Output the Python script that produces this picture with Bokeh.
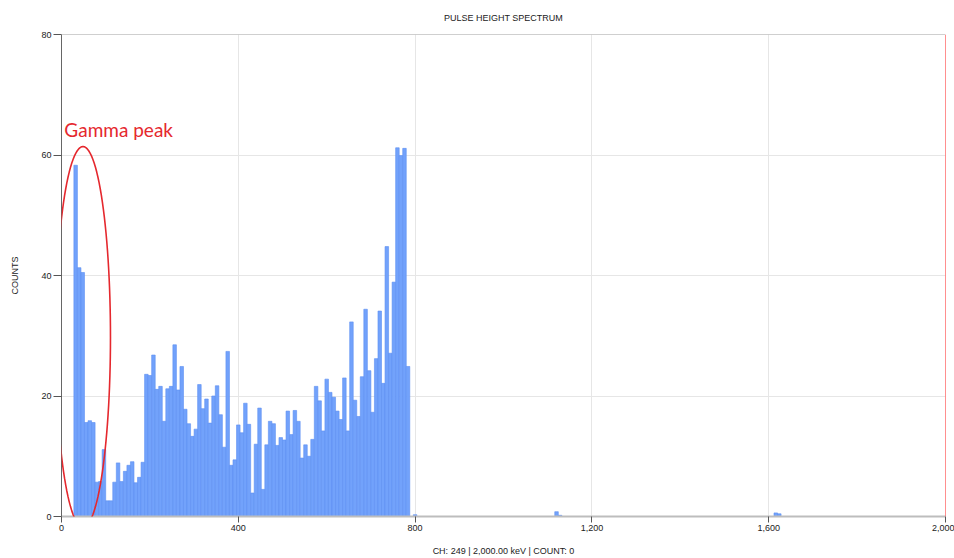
import math
from bokeh.plotting import figure
from bokeh.models import (ColumnDataSource, Label, Span, NumeralTickFormatter, FixedTicker,
                          Range1d, PolyAnnotation)
from bokeh.embed import file_html
from bokeh.resources import INLINE

# ---- data ----
kev_per_channel = 8
main_channels = list(range(4, 99))
main_counts = [
    58.3, 41.3, 40.5, 15.6, 15.9, 15.6, 5.7, 5.8, 11.1, 2.6,
    2.6, 5.7, 8.9, 5.8, 7.5, 8.5, 9.1, 5.6, 6.5, 9.0,
    23.6, 23.4, 26.8, 21.1, 21.6, 15.8, 21.2, 21.6, 28.5, 21.0,
    24.9, 17.8, 15.4, 13.3, 14.5, 21.9, 17.9, 19.5, 15.5, 20.0,
    21.7, 16.9, 11.5, 27.4, 8.5, 9.4, 15.2, 13.9, 18.8, 15.3,
    3.9, 12.0, 18.0, 4.5, 11.9, 15.8, 15.4, 11.8, 13.1, 12.7,
    17.5, 13.6, 17.6, 15.8, 9.7, 11.9, 10.0, 12.8, 21.6, 19.2,
    14.2, 22.8, 20.6, 19.8, 17.5, 16.1, 23.0, 14.2, 32.3, 19.3,
    16.6, 23.2, 34.4, 24.2, 17.3, 26.2, 34.1, 22.1, 44.8, 27.1,
    38.9, 61.2, 59.9, 61.1, 24.9,
]
extra_channels = [100, 140, 141, 202, 203]
extra_counts = [0.3, 0.8, 0.2, 0.6, 0.45]

x_ticks = [0, 400, 800, 1200, 1600, 2000]
y_ticks = [0, 20, 40, 60, 80]

channels = main_channels + extra_channels
counts = main_counts + extra_counts
energies = [c * kev_per_channel for c in channels]

src = ColumnDataSource(dict(x=energies, top=counts))

p = figure(width=954, height=558, output_backend="svg", toolbar_location=None,
           x_range=Range1d(0, 2000), y_range=Range1d(0, 80),
           min_border_left=61, min_border_right=9, min_border_top=34, min_border_bottom=42,
           title="PULSE HEIGHT SPECTRUM")
p.outline_line_color = None
p.background_fill_color = "white"
p.border_fill_color = "white"

p.title.align = "center"
p.title.vertical_align = "top"
p.title.text_font = "Liberation Sans"
p.title.text_font_size = "9px"
p.title.text_font_style = "normal"
p.title.text_color = "#222222"
p.title.standoff = 20

p.vbar(x="x", top="top", width=kev_per_channel, source=src,
       fill_color="#72a2fb", line_color="#5c8ef2", line_width=0.6)

# grid
p.xgrid.grid_line_color = "#e6e6e6"
p.ygrid.grid_line_color = "#e6e6e6"
p.xaxis.ticker = FixedTicker(ticks=x_ticks)
p.yaxis.ticker = FixedTicker(ticks=y_ticks)
p.xaxis.formatter = NumeralTickFormatter(format="0,0")

for ax in (p.xaxis, p.yaxis):
    ax.major_label_text_font = "Liberation Sans"
    ax.major_label_text_font_size = "9px"
    ax.major_label_text_color = "#222222"
    ax.axis_label_text_font = "Liberation Sans"
    ax.axis_label_text_font_size = "9px"
    ax.axis_label_text_font_style = "normal"
    ax.axis_label_text_color = "#222222"
    ax.minor_tick_line_color = None
    ax.major_tick_in = 0
    ax.major_label_standoff = 2
    ax.major_tick_line_color = "#555555"

p.xaxis.axis_line_color = "#bdbdbd"
p.xaxis.axis_line_width = 2
p.xaxis.major_tick_out = 6
p.xaxis.axis_label = "CH: 249 | 2,000.00 keV | COUNT: 0"
p.xaxis.axis_label_standoff = 12

p.yaxis.axis_line_color = "#666666"
p.yaxis.major_tick_out = 8
p.yaxis.axis_label = "COUNTS"
p.yaxis.axis_label_standoff = 18

p.add_layout(Span(location=80, dimension="width", line_color="#a0a0a0", line_width=1))
p.add_layout(Span(location=2000, dimension="height", line_color="#ff2020", line_width=1))

# annotation: hand-drawn ellipse around the low-energy peak
ell_cx, ell_cy, ell_a, ell_b = 48.6, 29.8, 62.2, 31.6
ts = [2 * math.pi * i / 120 for i in range(121)]
p.add_layout(PolyAnnotation(xs=[ell_cx + ell_a * math.cos(t) for t in ts],
                            ys=[ell_cy + ell_b * math.sin(t) for t in ts],
                            fill_alpha=0, line_alpha=1.0,
                            line_color="#e5282e", line_width=1.6))
p.add_layout(Label(x=6.5, y=64.3, text="Gamma peak", text_color="#e5282e",
                   text_font="Lato", text_font_size="19px", text_baseline="alphabetic"))

open("out.html", "w").write(file_html(p, INLINE))
